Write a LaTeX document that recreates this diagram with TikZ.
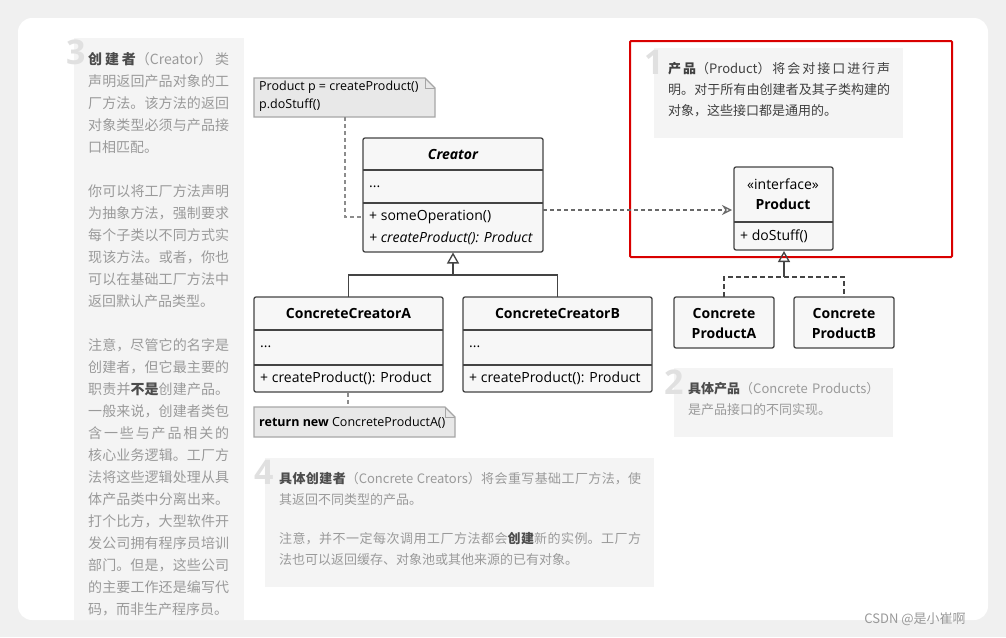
\documentclass[tikz,border=0pt]{standalone}
\usepackage{fontspec}
\setmainfont{Open Sans}
\newfontfamily\cjk{Noto Sans CJK SC}
\XeTeXlinebreaklocale "zh"
\XeTeXlinebreakskip=0pt plus 1pt
\hyphenpenalty=10000
\usetikzlibrary{arrows.meta}
\definecolor{panel}{HTML}{F4F4F4}
\definecolor{txt}{HTML}{9A9A9A}
\definecolor{bd}{HTML}{444444}
\definecolor{cls}{HTML}{F7F7F7}
\definecolor{notec}{HTML}{E8E8E8}
\tikzset{x=1pt,y=-1pt,
 clsbox/.style={draw=bd,line width=1.3pt,fill=cls,rounded corners=2pt},
 sep/.style={draw=bd,line width=1.3pt},
 lbl/.style={inner sep=0pt,anchor=west,font=\fontsize{14}{16}\selectfont},
 ttl/.style={inner sep=0pt,font=\fontsize{14}{16}\selectfont\bfseries},
 ptext/.style={inner sep=0pt,anchor=north west,align=justify,text=txt,font=\cjk\fontsize{13}{22}\selectfont},
 big/.style={inner sep=0pt,anchor=north west,text=black!12,font=\fontsize{34}{34}\selectfont\bfseries},
 inh/.style={draw=bd,line width=1.3pt},
 dsh/.style={draw=black!45,line width=1.3pt,dash pattern=on 4pt off 3pt},
}
\begin{document}
\begin{tikzpicture}
\useasboundingbox (0,0) rectangle (1006,637);
\fill[black!6] (0,0) rectangle (1006,637);
\fill[white,rounded corners=14pt] (18,18) rectangle (988,620);
% left panel
\fill[panel] (74,38) rectangle (244,620);
\node[big] (n3) at (66,40) {3};
\node[ptext,text width=141pt,font=\cjk\fontsize{14}{22}\selectfont] (t3) at (88,52) {{\color{black!70}\bfseries 创建者}（Creator）类声明返回产品对象的工厂方法。该方法的返回对象类型必须与产品接口相匹配。\\[22pt]你可以将工厂方法声明为抽象方法，强制要求每个子类以不同方式实现该方法。或者，你也可以在基础工厂方法中返回默认产品类型。\\[22pt]注意，尽管它的名字是创建者，但它最主要的职责并{\color{black!70}\bfseries 不是}创建产品。一般来说，创建者类包含一些与产品相关的核心业务逻辑。工厂方法将这些逻辑处理从具体产品类中分离出来。打个比方，大型软件开发公司拥有程序员培训部门。但是，这些公司的主要工作还是编写代码，而非生产程序员。};
% red frame and panel 1
\draw[red!85!black,line width=2pt,rounded corners=1pt] (630,41) rectangle (952,257);
\fill[panel] (654,48) rectangle (903,138);
\node[big] (n1) at (644,50) {1};
\node[ptext,text width=222pt,font=\cjk\fontsize{13}{21}\selectfont,text=black!75] (t1) at (668,62) {{\bfseries 产品}（Product）将会对接口进行声明。对于所有由创建者及其子类构建的对象，这些接口都是通用的。};
% panel 2
\fill[panel] (674,368) rectangle (893,437);
\node[big] (n2) at (664,370) {2};
\node[ptext,text width=200pt,align=left,font=\cjk\fontsize{13}{21}\selectfont] (t2) at (688,382) {{\color{black!70}\bfseries 具体产品}（Concrete Products）\\是产品接口的不同实现。};
% panel 4
\fill[panel] (265,458) rectangle (654,587);
\node[big] (n4) at (254,460) {4};
\node[ptext,text width=362pt,font=\cjk\fontsize{13}{21}\selectfont] (t4) at (279,472) {{\color{black!70}\bfseries 具体创建者}（Concrete Creators）将会重写基础工厂方法，使其返回不同类型的产品。\\[18pt]注意，并不一定每次调用工厂方法都会{\color{black!70}\bfseries 创建}新的实例。工厂方法也可以返回缓存、对象池或其他来源的已有对象。};
% notes
\draw[black!35,line width=1.2pt,fill=notec] (254,78)--(425,78)--(435,88)--(435,117)--(254,117)--cycle;
\draw[black!35,line width=1pt] (425,78)--(425,88)--(435,88);
\node[lbl,anchor=north west,align=left,font=\fontsize{12.5}{18}\selectfont] (note1) at (259,81) {Product p = createProduct()\\p.doStuff()};
\draw[black!35,line width=1.2pt,fill=notec] (254,407)--(445,407)--(455,417)--(455,437)--(254,437)--cycle;
\draw[black!35,line width=1pt] (445,407)--(445,417)--(455,417);
\node[lbl,font=\fontsize{12.5}{16}\selectfont] (note2) at (259,423) {\textbf{return new} ConcreteProductA()};
% Creator
\draw[clsbox] (363,138) rectangle (543,252);
\draw[sep] (363,170)--(543,170); \draw[sep] (363,203)--(543,203);
\node[ttl] (creator) at (453,154) {\itshape Creator};
\node[lbl] (cdots) at (369,187) {...};
\node[lbl] (cm1) at (369,217) {+ someOperation()};
\node[lbl] (cm2) at (369,238) {\itshape + createProduct(): Product};
% Concrete creators
\foreach \x/\n/\nm in {254/A/ccA,463/B/ccB}{
 \draw[clsbox] (\x,297) rectangle (\x+189,392);
 \draw[sep] (\x,330)--(\x+189,330); \draw[sep] (\x,365)--(\x+189,365);
 \node[ttl] (\nm) at (\x+94.5,313) {ConcreteCreator\n};
 \node[lbl] (\nm d) at (\x+6,347) {...};
 \node[lbl] (\nm m) at (\x+6,378) {+ createProduct(): Product};
}
% Product
\draw[clsbox] (734,167) rectangle (833,250);
\draw[sep] (734,222)--(833,222);
\node[ttl,align=center,font=\fontsize{14}{20}\selectfont] (prod) at (783,194) {\mdseries«interface»\\\bfseries Product};
\node[lbl] (pm) at (740,236) {+ doStuff()};
\foreach \x/\n/\nm in {674/A/cpA,794/B/cpB}{
 \draw[clsbox] (\x,297) rectangle (\x+100,348);
 \node[ttl,align=center,font=\fontsize{14}{20}\selectfont\bfseries] (\nm) at (\x+50,323) {Concrete\\Product\n};
}
% connectors
\coordinate (jc) at (453,275);
\draw[inh] (348.5,297)--(348.5,275)--(557.5,275)--(557.5,297);
\draw[inh,-{Triangle[open,length=11pt,width=12pt]}] (jc)--(453,252.5);
\draw[inh,dash pattern=on 5pt off 3pt] (724,297)--(724,277)--(844,277)--(844,297);
\draw[inh,-{Triangle[open,length=11pt,width=12pt]}] (784,277)--(784,251);
\draw[dsh,draw=bd!80,-{Stealth[open,length=10pt,width=10pt]}] (543,210)--(732,210);
\draw[dsh] (345,117)--(345,217)--(362,217);
\draw[dsh] (348,393)--(348,406);
\node[inner sep=0pt,text=black!40,font=\cjk\fontsize{13}{16}\selectfont] (wm) at (915,619) {CSDN @是小崔啊};
\end{tikzpicture}
\end{document}
